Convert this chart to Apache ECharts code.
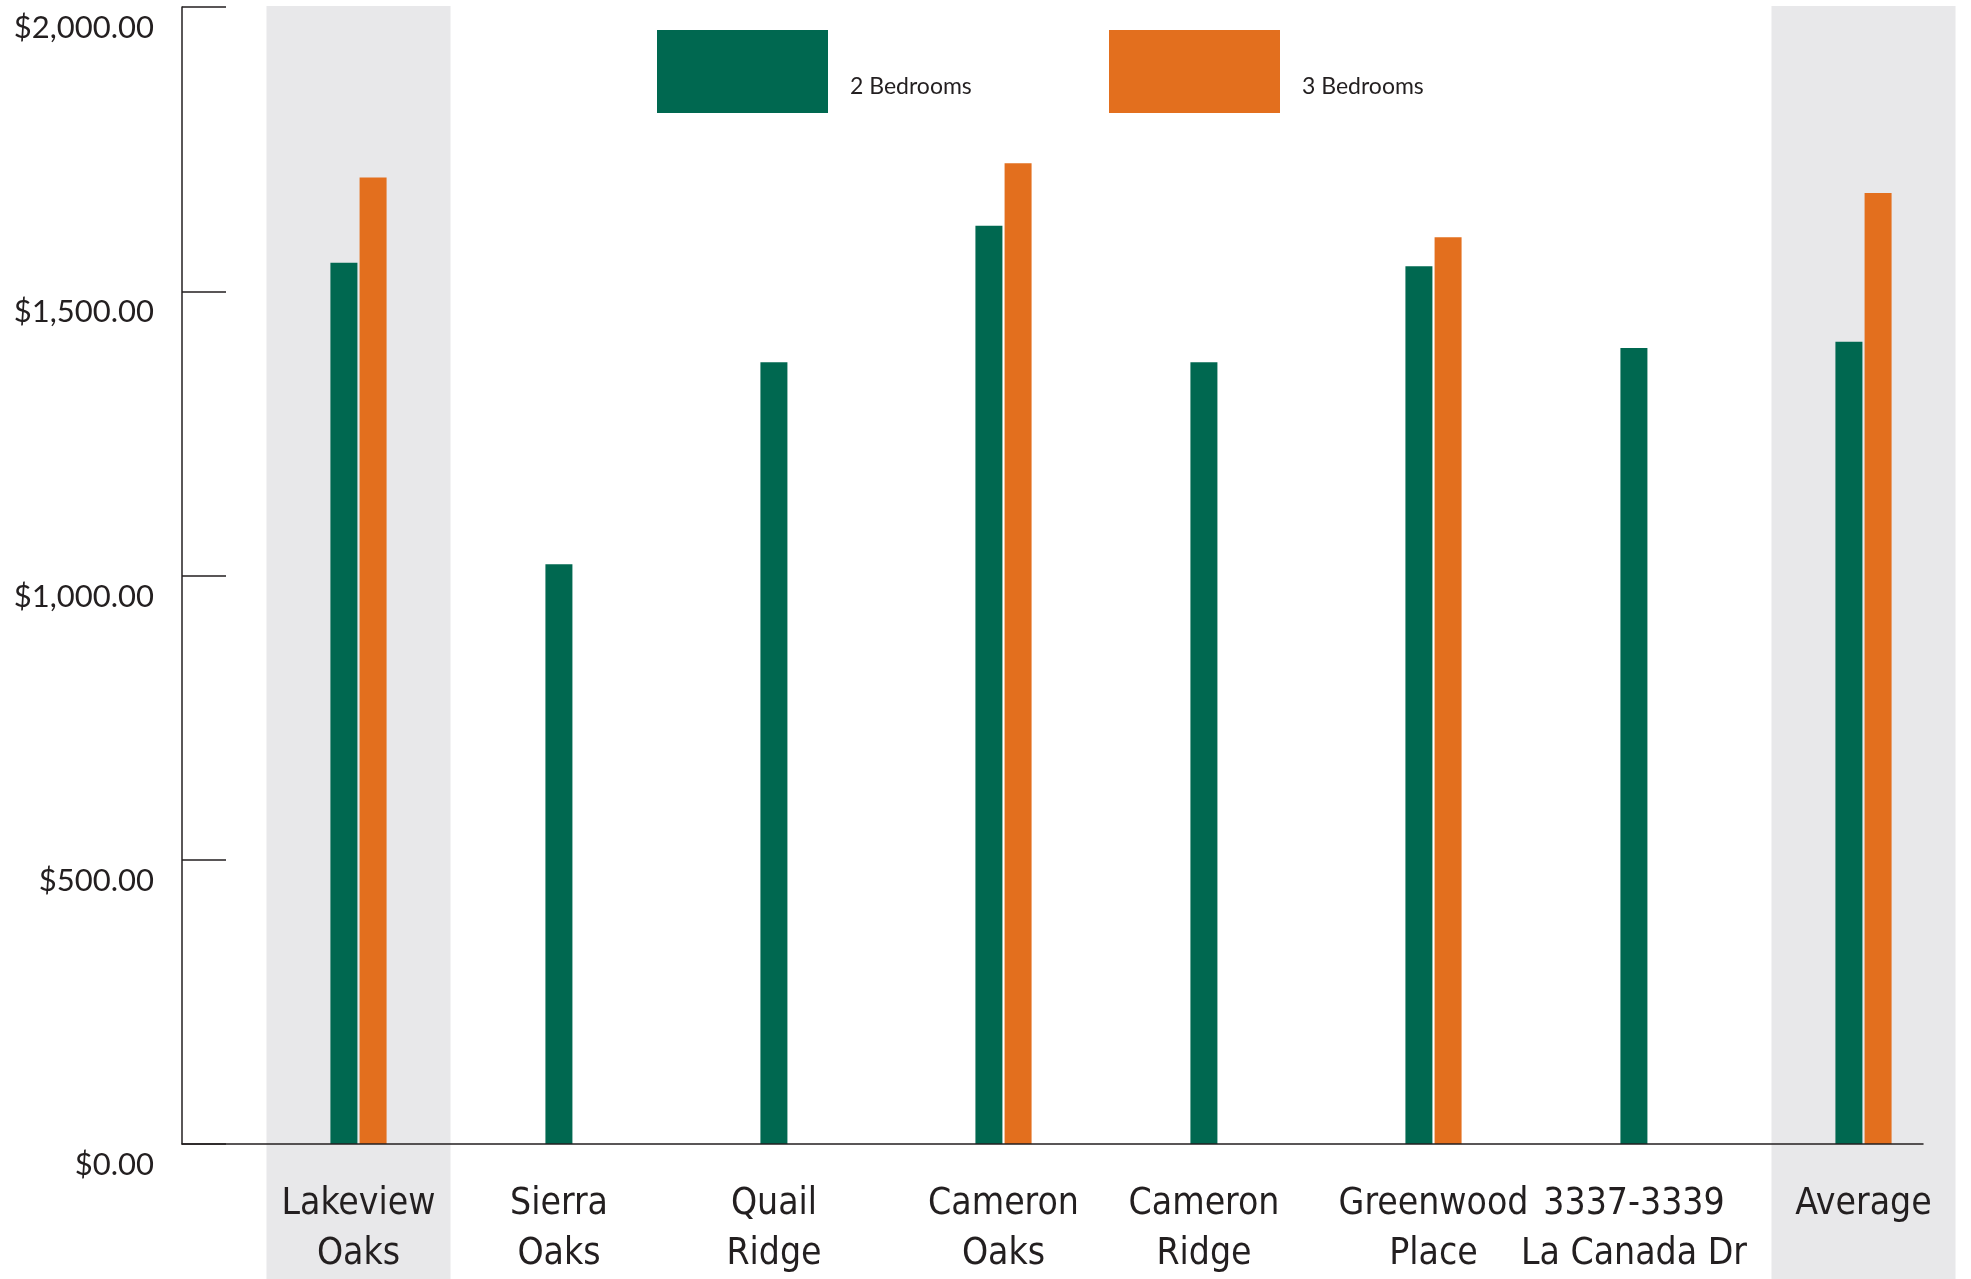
<!DOCTYPE html>
<html>
<head>
<meta charset="utf-8">
<script src="https://cdn.jsdelivr.net/npm/echarts@6/dist/echarts.min.js"></script>
<style>
  html, body { margin: 0; padding: 0; background: #ffffff; }
  #chart { width: 1971px; height: 1279px; }
</style>
</head>
<body>
<div id="chart"></div>
<script>
// ---- data ----
const categories = ['Lakeview\nOaks', 'Sierra\nOaks', 'Quail\nRidge', 'Cameron\nOaks', 'Cameron\nRidge', 'Greenwood\nPlace', '3337-3339\nLa Canada Dr', 'Average'];
const twoBedrooms = [1550, 1020, 1375, 1615, 1375, 1544, 1400, 1411];
const threeBedrooms = [1700, null, null, 1725, null, 1595, null, 1673];
const yTickLabels = ['$0.00', '$500.00', '$1,000.00', '$1,500.00', '$2,000.00'];
const highlighted = ['Lakeview\nOaks', 'Average'];
const seriesNames = ['2 Bedrooms', '3 Bedrooms'];

// ---- styling ----
const GREEN = '#006850';
const ORANGE = '#e36f1e';
const BAND = '#e8e8ea';
const INK = '#231f20';
const catFont = '"DejaVu Sans Condensed", "Liberation Sans Narrow", sans-serif';
const numFont = 'Lato, "Open Sans", sans-serif';

const toBar = arr => arr.map(v => (v === null ? '-' : v));
const bandData = categories.map(c => (highlighted.indexOf(c) >= 0 ? 1 : '-'));
// labels of single-bar groups sit centred under the lone green bar
const labelItems = categories.map((c, i) => (threeBedrooms[i] === null
  ? { value: c, textStyle: { padding: [0, 29, 0, 0] } }
  : { value: c }));

function legendFor(name, left) {
  return {
    data: [name], left: left, top: 25, icon: 'rect',
    itemWidth: 171, itemHeight: 83, selectedMode: false,
    formatter: '{t|{name}}',
    textStyle: { rich: { t: { fontSize: 23, fontFamily: numFont, color: INK, padding: [31, 0, 0, 17] } } }
  };
}

const chart = echarts.init(document.getElementById('chart'), null, { renderer: 'canvas' });
chart.setOption({
  animation: false,
  backgroundColor: '#ffffff',
  legend: [legendFor(seriesNames[0], 652), legendFor(seriesNames[1], 1104)],
  grid: [
    { left: 182, top: 7, width: 1741, height: 1137 },
    { left: 251, top: 7, width: 1732, height: 1137 },
    { left: 251, top: 6, width: 1732, height: 1273 }
  ],
  xAxis: [
    { gridIndex: 0, type: 'category', data: categories, z: 5,
      axisLine: { show: true, lineStyle: { color: INK, width: 1.5 } },
      axisTick: { show: false }, axisLabel: { show: false }, splitLine: { show: false } },
    { gridIndex: 1, type: 'category', data: labelItems, z: 6,
      axisLine: { show: false }, axisTick: { show: false }, splitLine: { show: false },
      axisLabel: { interval: 0, margin: 35, fontSize: 37, lineHeight: 50, fontFamily: catFont, color: INK } },
    { gridIndex: 2, type: 'category', data: categories, show: false }
  ],
  yAxis: [
    { gridIndex: 0, type: 'value', min: 0, max: 2000, interval: 500, z: 5,
      axisLine: { show: true, lineStyle: { color: INK, width: 1.5 } },
      axisTick: { show: true, inside: true, length: 44, lineStyle: { color: INK, width: 1.5 } },
      splitLine: { show: false },
      axisLabel: { margin: 28, fontSize: 31, fontFamily: numFont, color: INK,
        verticalAlign: 'top', lineHeight: 42,
        formatter: v => yTickLabels[Math.round(v / 500)] } },
    { gridIndex: 1, type: 'value', min: 0, max: 2000, show: false },
    { gridIndex: 2, type: 'value', min: 0, max: 1, show: false }
  ],
  series: [
    { name: 'band', type: 'bar', xAxisIndex: 2, yAxisIndex: 2, data: bandData,
      barWidth: 184, silent: true, z: 1, itemStyle: { color: BAND } },
    { name: seriesNames[0], type: 'bar', xAxisIndex: 1, yAxisIndex: 1, data: toBar(twoBedrooms),
      barWidth: 27, barGap: '8%', z: 2, itemStyle: { color: GREEN } },
    { name: seriesNames[1], type: 'bar', xAxisIndex: 1, yAxisIndex: 1, data: toBar(threeBedrooms),
      barWidth: 27, barGap: '8%', z: 2, itemStyle: { color: ORANGE } }
  ]
});
</script>
</body>
</html>
